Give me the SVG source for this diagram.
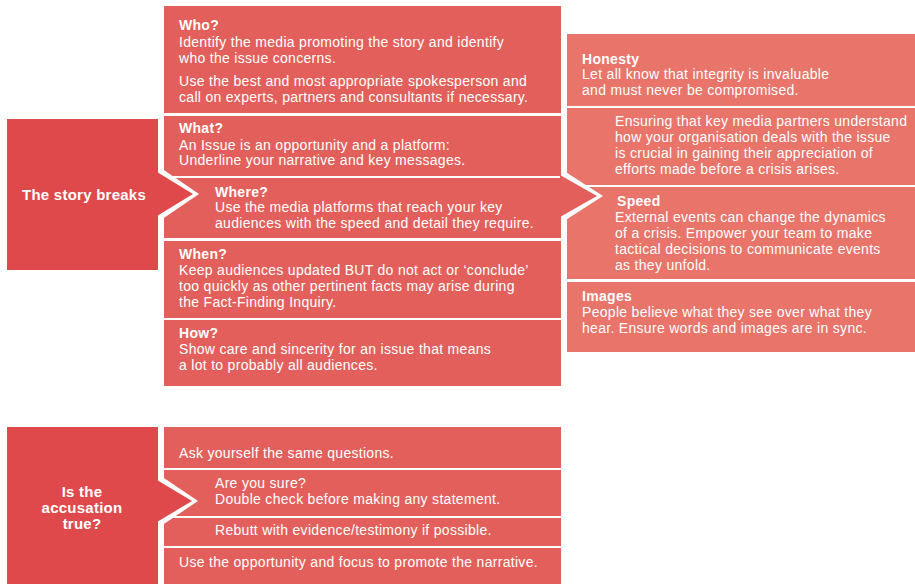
<svg xmlns="http://www.w3.org/2000/svg" width="915" height="584" viewBox="0 0 915 584">
<style>
.lf{fill:#E0494C}
.md{fill:#E35F5B}
.rt{fill:#E8746A}
text{font-family:"Liberation Sans",Arial,Helvetica,sans-serif;fill:#ffffff;font-size:14px;letter-spacing:0.3px}
.b{font-weight:bold}
.lbl{font-weight:bold;font-size:15px;letter-spacing:0.25px;text-anchor:middle}
</style>
<rect width="915" height="584" fill="#ffffff"/>
<g id="honesty"><rect class="rt" x="567" y="34" width="348" height="72"/>
<text x="582" y="64" class="b">Honesty</text>
<text x="582" y="79">Let all know that integrity is invaluable</text>
<text x="582" y="95">and must never be compromised.</text></g>
<g id="ensuring"><rect class="rt" x="567" y="108" width="348" height="77"/>
<text x="615" y="126">Ensuring that key media partners understand</text>
<text x="615" y="142">how your organisation deals with the issue</text>
<text x="615" y="158">is crucial in gaining their appreciation of</text>
<text x="615" y="174">efforts made before a crisis arises.</text></g>
<g id="speed"><rect class="rt" x="567" y="187" width="348" height="92"/>
<text x="617" y="206" class="b">Speed</text>
<text x="615" y="222">External events can change the dynamics</text>
<text x="615" y="238">of a crisis. Empower your team to make</text>
<text x="615" y="254">tactical decisions to communicate events</text>
<text x="615" y="270">as they unfold.</text></g>
<g id="images"><rect class="rt" x="567" y="282" width="348" height="70"/>
<text x="582" y="301" class="b">Images</text>
<text x="582" y="317">People believe what they see over what they</text>
<text x="582" y="333">hear. Ensure words and images are in sync.</text></g>
<g id="who"><rect class="md" x="164" y="6" width="397" height="107"/>
<text x="179" y="30" class="b">Who?</text>
<text x="179" y="47">Identify the media promoting the story and identify</text>
<text x="179" y="63">who the issue concerns.</text>
<text x="179" y="86">Use the best and most appropriate spokesperson and</text>
<text x="179" y="102">call on experts, partners and consultants if necessary.</text></g>
<g id="what"><rect class="md" x="164" y="116" width="397" height="60"/>
<text x="179" y="133" class="b">What?</text>
<text x="179" y="150">An Issue is an opportunity and a platform:</text>
<text x="179" y="165">Underline your narrative and key messages.</text></g>
<g id="where"><rect class="md" x="164" y="178" width="397" height="60"/>
<text x="215" y="197" class="b">Where?</text>
<text x="215" y="212">Use the media platforms that reach your key</text>
<text x="215" y="228">audiences with the speed and detail they require.</text></g>
<g id="when"><rect class="md" x="164" y="241" width="397" height="77"/>
<text x="179" y="259" class="b">When?</text>
<text x="179" y="275">Keep audiences updated BUT do not act or ‘conclude’</text>
<text x="179" y="291">too quickly as other pertinent facts may arise during</text>
<text x="179" y="307">the Fact-Finding Inquiry.</text></g>
<g id="how"><rect class="md" x="164" y="320" width="397" height="66"/>
<text x="179" y="338" class="b">How?</text>
<text x="179" y="354">Show care and sincerity for an issue that means</text>
<text x="179" y="370">a lot to probably all audiences.</text></g>
<g id="story-breaks"><rect class="lf" x="7" y="119" width="151" height="151"/>
<text x="84" y="200" class="lbl">The story breaks</text></g>
<g id="ask"><rect class="md" x="164" y="427" width="397" height="41"/>
<text x="179" y="458">Ask yourself the same questions.</text></g>
<g id="sure"><rect class="md" x="164" y="470" width="397" height="46"/>
<text x="215" y="488">Are you sure?</text>
<text x="215" y="504">Double check before making any statement.</text></g>
<g id="rebutt"><rect class="md" x="164" y="518" width="397" height="28"/>
<text x="215" y="535">Rebutt with evidence/testimony if possible.</text></g>
<g id="use"><rect class="md" x="164" y="548" width="397" height="36"/>
<text x="179" y="567">Use the opportunity and focus to promote the narrative.</text></g>
<g id="accusation"><rect class="lf" x="7" y="427" width="151" height="157"/>
<text x="82" y="497" class="lbl">Is the</text>
<text x="82" y="513" class="lbl">accusation</text>
<text x="82" y="529" class="lbl">true?</text></g>
<g id="connectors">
<polygon fill="#ffffff" points="158,166 199,194 158,222"/>
<polygon class="lf" points="157,172 193,194 157,216"/>
<polygon fill="#ffffff" points="561,169 603,196 561,223"/>
<polygon class="md" points="560,175 597,196 560,217"/>
<polygon fill="#ffffff" points="158,474 198,501 158,528"/>
<polygon class="lf" points="157,480 192,501 157,522"/>
</g>
</svg>
